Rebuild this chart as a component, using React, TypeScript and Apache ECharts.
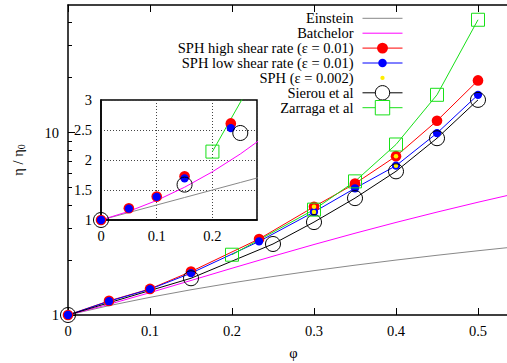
import { useEffect, useRef } from 'react';
import * as echarts from 'echarts';

const FONT = '"Liberation Serif", "Times New Roman", serif';

// ---- data ----
const phiSPH = [0, 0.05, 0.1, 0.15, 0.233, 0.3, 0.35, 0.4, 0.45, 0.5];
const etaHigh = [1.0, 1.195, 1.39, 1.73, 2.61, 3.92, 5.25, 7.42, 11.6, 19.3];
const etaLow = [1.0, 1.19, 1.385, 1.695, 2.53, 3.67, 4.95, 6.58, 9.93, 16.1];

const phiFine = [0, 0.05, 0.1, 0.15, 0.2, 0.25, 0.3, 0.35, 0.4, 0.45, 0.5, 0.55];
const etaEinstein = [1, 1.125, 1.25, 1.375, 1.5, 1.625, 1.75, 1.875, 2.0, 2.125, 2.25, 2.375];
const etaBatchelor = [1, 1.144, 1.326, 1.546, 1.804, 2.1, 2.434, 2.806, 3.216, 3.664, 4.15, 4.674];

const phiEps002 = [0.3, 0.3, 0.4, 0.4];
const etaEps002 = [3.92, 3.67, 7.42, 6.58];

const phiSierou = [0, 0.15, 0.25, 0.3, 0.35, 0.4, 0.45, 0.5];
const etaSierou = [1.0, 1.59, 2.45, 3.23, 4.37, 6.13, 9.31, 15.1];

const phiZarraga = [0.2, 0.3, 0.35, 0.4, 0.45, 0.5];
const etaZarraga = [2.14, 3.78, 5.4, 8.6, 16.1, 41.5];

const yMajorTicks = [1, 10];
const yMinorTicks = [2, 3, 4, 5, 6, 7, 8, 9, 20, 30, 40];

const NAMES = {
  ein: 'Einstein',
  bat: 'Batchelor',
  high: 'SPH high shear rate (ε = 0.01)',
  low: 'SPH low shear rate (ε = 0.01)',
  eps: 'SPH (ε = 0.002)',
  sie: 'Sierou et al',
  zar: 'Zarraga et al',
};

const RED_PATH = 'path://M0 0M100 100M12 50a38 38 0 1 0 76 0a38 38 0 1 0 -76 0z';
const BLUE_PATH = 'path://M0 0M100 100M20.5 50a29.5 29.5 0 1 0 59 0a29.5 29.5 0 1 0 -59 0z';
const YEL_PATH = 'path://M0 0M100 100M35 50a15 15 0 1 0 30 0a15 15 0 1 0 -30 0z';

const GREEN = '#18e018';

function pts(xs: number[], ys: number[]) {
  return xs.map((x, i) => [x, ys[i]]);
}

function makeSeries(g: number) {
  const main = g === 0;
  const xAxisIndex = main ? 0 : 2;
  const yAxisIndex = main ? 0 : 2;
  const base = { type: 'line', xAxisIndex, yAxisIndex, silent: true, emphasis: { disabled: true }, clip: true };
  // in the inset the simulation points and Sierou points are shown without lines
  const lw = main ? 1 : 0;
  const list: any[] = [
    { ...base, name: NAMES.ein, data: pts(phiFine, etaEinstein), symbol: 'none', lineStyle: { color: '#888', width: 1 }, itemStyle: { color: '#888' } },
    { ...base, name: NAMES.bat, data: pts(phiFine, etaBatchelor), symbol: 'none', lineStyle: { color: '#ff00ff', width: 1 }, itemStyle: { color: '#ff00ff' } },
    { ...base, name: NAMES.high, data: pts(phiSPH, etaHigh), symbol: RED_PATH, symbolSize: 14, lineStyle: { color: '#ff0000', width: lw, opacity: lw }, itemStyle: { color: '#ff0000', borderWidth: 0 } },
    { ...base, name: NAMES.low, data: pts(phiSPH, etaLow), symbol: BLUE_PATH, symbolSize: 14, lineStyle: { color: '#0000ff', width: lw, opacity: lw }, itemStyle: { color: '#0000ff', borderWidth: 0 } },
  ];
  if (main) {
    list.push({ ...base, name: NAMES.eps, data: pts(phiEps002, etaEps002), symbol: YEL_PATH, symbolSize: 15, lineStyle: { width: 0, opacity: 0, color: '#ffee00' }, itemStyle: { color: '#ffee00', borderWidth: 0 } });
  }
  list.push(
    { ...base, name: NAMES.sie, data: pts(phiSierou, etaSierou), symbol: 'circle', symbolSize: 15, lineStyle: { color: '#000', width: lw, opacity: lw }, itemStyle: { color: 'transparent', borderColor: '#000', borderWidth: 1 } },
    { ...base, name: NAMES.zar, data: pts(phiZarraga, etaZarraga), symbol: 'rect', symbolSize: 13, lineStyle: { color: GREEN, width: 1 }, itemStyle: { color: 'transparent', borderColor: GREEN, borderWidth: 1 } },
  );
  return list;
}

const labelStyle = { color: '#000', fontSize: 14.5, fontFamily: FONT };
const axisLineStyle = { show: true, onZero: false, lineStyle: { color: '#000', width: 1.5 } };
const dotted = { show: true, lineStyle: { color: '#444', type: [1, 2] as any, width: 1 } };

const option: any = {
  animation: false,
  backgroundColor: '#fff',
  grid: [
    { left: 68, top: 5, right: -12, bottom: 48, outerBoundsMode: 'none', containLabel: false },
    { left: 101, top: 100, width: 156, height: 120, show: true, backgroundColor: '#fff', borderColor: '#000', borderWidth: 1.5, outerBoundsMode: 'none', containLabel: false },
  ],
  xAxis: [
    {
      gridIndex: 0, type: 'value', min: 0, max: 0.55, interval: 0.1, position: 'bottom',
      axisLine: axisLineStyle,
      axisTick: { show: true, inside: true, length: 7, lineStyle: { color: '#000', width: 1 } },
      axisLabel: { ...labelStyle, margin: 8, showMaxLabel: false },
      splitLine: { show: false },
      name: 'φ', nameLocation: 'middle', nameGap: 30, nameTextStyle: { ...labelStyle },
    },
    {
      gridIndex: 0, type: 'value', min: 0, max: 0.55, interval: 0.1, position: 'top',
      axisLine: axisLineStyle,
      axisTick: { show: true, inside: true, length: 7, lineStyle: { color: '#000', width: 1 } },
      axisLabel: { show: false },
      splitLine: { show: false },
    },
    {
      gridIndex: 1, type: 'value', min: 0, max: 0.28, interval: 0.1, position: 'bottom',
      axisLine: axisLineStyle,
      axisTick: { show: false },
      axisLabel: { ...labelStyle, margin: 8, showMaxLabel: false },
      splitLine: dotted,
    },
  ],
  yAxis: [
    {
      gridIndex: 0, type: 'log', logBase: 10, min: 1, max: 50, position: 'left',
      axisLine: axisLineStyle,
      axisTick: { show: true, inside: true, length: 7, customValues: yMajorTicks, lineStyle: { color: '#000', width: 1 } },
      axisLabel: { ...labelStyle, margin: 9, customValues: yMajorTicks },
      splitLine: { show: false },
      minorTick: { show: false },
      name: '{a|η / η}{b|0}', nameLocation: 'middle', nameRotate: 90, nameGap: 42,
      nameTextStyle: { ...labelStyle, rich: { a: { fontSize: 14.5, fontFamily: FONT, color: '#000' }, b: { fontSize: 10, fontFamily: FONT, color: '#000', padding: [6, 0, 0, 0] } } },
    },
    {
      gridIndex: 0, type: 'log', logBase: 10, min: 1, max: 50, position: 'left',
      axisLine: { show: false, onZero: false },
      axisTick: { show: true, inside: true, length: 4, customValues: yMinorTicks, lineStyle: { color: '#000', width: 1 } },
      axisLabel: { show: false },
      splitLine: { show: false },
    },
    {
      gridIndex: 1, type: 'value', min: 1, max: 3, interval: 0.5, position: 'left',
      axisLine: axisLineStyle,
      axisTick: { show: false },
      axisLabel: { ...labelStyle, margin: 9 },
      splitLine: dotted,
    },
  ],
  legend: {
    orient: 'vertical', align: 'right', right: 104, top: 9.3,
    itemWidth: 40, itemHeight: 18, itemGap: -3.1, padding: 0, selectedMode: false,
    textStyle: { ...labelStyle, lineHeight: 18, padding: [0, 4, 0, 0] },
    lineStyle: { width: 1 },
    data: [
      { name: NAMES.ein, itemStyle: { opacity: 0 } },
      { name: NAMES.bat, itemStyle: { opacity: 0 } },
      { name: NAMES.high },
      { name: NAMES.low },
      { name: NAMES.eps, lineStyle: { opacity: 0 } },
      { name: NAMES.sie, itemStyle: { color: '#fff', borderWidth: 1 } },
      { name: NAMES.zar, itemStyle: { color: '#fff', borderWidth: 1 } },
    ],
  },
  series: [...makeSeries(0), ...makeSeries(1)],
};

export default function App() {
  const ref = useRef<HTMLDivElement>(null);
  useEffect(() => {
    const chart = echarts.init(ref.current!, null, { renderer: 'svg' });
    chart.setOption(option);
    return () => chart.dispose();
  }, []);
  return (
    <div
      ref={ref}
      style={{ position: 'fixed', left: 0, top: 0, width: 507, height: 363, background: '#fff' }}
    />
  );
}
